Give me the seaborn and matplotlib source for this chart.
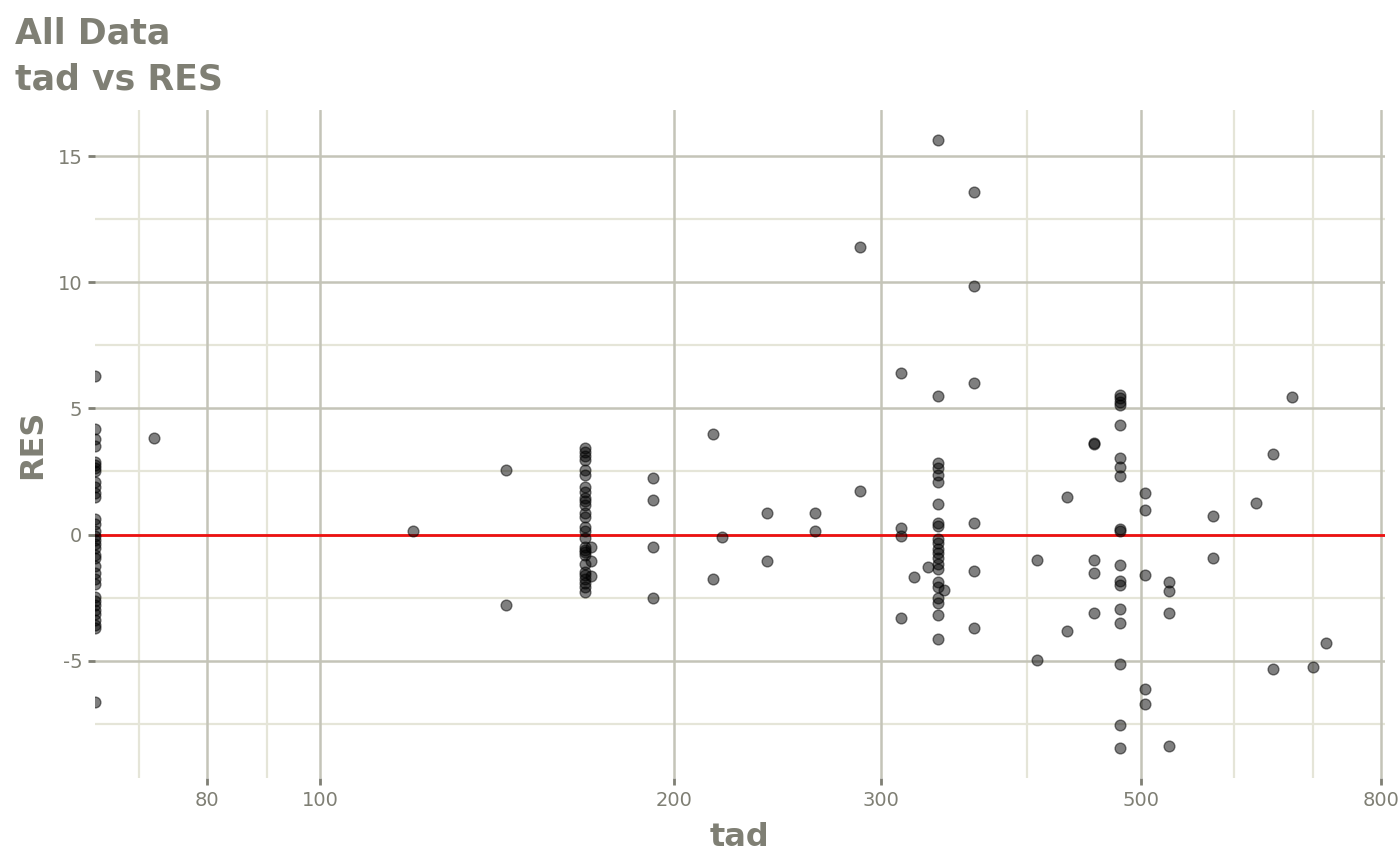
import numpy as np
import pandas as pd
import matplotlib
matplotlib.use("Agg")
import matplotlib.pyplot as plt
import seaborn as sns
from matplotlib.ticker import FixedLocator, FixedFormatter

# ---------------- data ----------------
tad_0 = [0] * 34
res_0 = [6.27, 4.2, 3.8, 3.5, 2.86, 2.74, 2.62, 2.5, 2.1, 1.87, 1.63, 1.5,
         0.6, 0.4, 0.16, -0.04, -0.2, -0.36, -0.52, -0.8, -0.95, -1.23,
         -1.51, -1.75, -1.98, -2.46, -2.62, -2.78, -2.98, -3.17, -3.37,
         -3.57, -3.69, -6.63]

tad_168 = [168] * 27 + [170] * 3
res_168 = [3.45, 3.29, 3.13, 2.94, 2.54, 2.38, 1.87, 1.67, 1.43, 1.31, 1.19,
           0.87, 0.71, 0.28, 0.16, -0.12, -0.48, -0.6, -0.71, -0.83, -1.15,
           -1.47, -1.59, -1.75, -1.94, -2.1, -2.26,
           -0.48, -1.03, -1.63]

tad_336 = [336] * 22 + [329, 340, 320]
res_336 = [15.63, 5.48, 2.82, 2.62, 2.38, 2.1, 1.23, 0.44, 0.32, -0.16,
           -0.32, -0.56, -0.75, -0.95, -1.15, -1.35, -1.9, -2.1, -2.5, -2.7,
           -3.21, -4.13,
           -1.27, -2.18, -1.7]

tad_480 = [480] * 18
res_480 = [5.52, 5.4, 5.24, 5.12, 4.33, 3.02, 2.66, 2.34, 0.16, 0.2, -1.19,
           -1.83, -2.02, -2.94, -3.49, -5.12, -7.54, -8.45]

tad_other = [72.1, 120, 144, 144, 192, 192, 192, 192, 216, 216, 220, 240, 240,
             264, 264, 288, 288, 312, 312, 312, 312, 360, 360, 360, 360, 360,
             360, 408, 408, 432, 432, 456, 456, 456, 456, 456, 504, 504, 504,
             504, 504, 528, 528, 528, 528, 576, 576, 626, 648, 648, 672, 700,
             719]
res_other = [3.81, 0.16, 2.54, -2.78, 2.26, 1.35, -0.48, -2.5, 3.97, -1.75,
             -0.08, 0.87, -1.03, 0.87, 0.16, 11.39, 1.71, 6.39, 0.24, -0.04,
             -3.29, 13.6, 9.84, 5.99, 0.44, -1.43, -3.69, -0.99, -4.96, 1.47,
             -3.81, 3.61, 3.58, -0.99, -1.51, -3.13, 1.63, 0.99, -1.59, -6.11,
             -6.71, -1.87, -2.22, -3.13, -8.37, 0.75, -0.95, 1.27, 3.21, -5.32,
             5.44, -5.24, -4.29]

x_major = [80, 100, 200, 300, 500, 800]
x_minor = [70, 90, 400, 600, 700]
y_major = [-5, 0, 5, 10, 15]
y_minor = [-7.5, -2.5, 2.5, 7.5, 12.5]

df = pd.DataFrame({
    "tad": tad_0 + tad_168 + tad_336 + tad_480 + tad_other,
    "RES": res_0 + res_168 + res_336 + res_480 + res_other,
})

# ---------------- limits like ggplot (5% expansion, log scale) ----------------
pos = df.loc[df.tad > 0, "tad"]
lo, hi = np.log10(pos.min()), np.log10(pos.max())
pad = 0.05 * (hi - lo)
xlim = (10 ** (lo - pad), 10 ** (hi + pad))
ylo, yhi = df.RES.min(), df.RES.max()
ypad = 0.05 * (yhi - ylo)
ylim = (ylo - ypad, yhi + ypad)
# zero values -> -Inf on log scale, drawn on the panel edge
df["tad_plot"] = df.tad.where(df.tad > 0, xlim[0])

# ---------------- styling ----------------
sns.set_theme(style="white")
plt.rcParams["font.family"] = ["DejaVu Sans"]
plt.rcParams["axes.unicode_minus"] = False

TXT = "#7f7f74"
MAJ = "#c4c4b8"
MIN = "#e5e5d8"

fig = plt.figure(figsize=(14, 8.65), dpi=100)
ax = fig.add_axes([95 / 1400, 1 - 778 / 865, (1385 - 95) / 1400, (778 - 110) / 865])

ax.set_xscale("log")
ax.set_xlim(*xlim)
ax.set_ylim(*ylim)

for v in x_minor:
    ax.axvline(v, color=MIN, lw=1.6, zorder=0)
for v in y_minor:
    ax.axhline(v, color=MIN, lw=1.6, zorder=0)
for v in x_major:
    ax.axvline(v, color=MAJ, lw=1.8, zorder=0.5)
for v in y_major:
    ax.axhline(v, color=MAJ, lw=1.8, zorder=0.5)

ax.axhline(0, color="#ee1111", lw=2, zorder=1)

sns.scatterplot(data=df, x="tad_plot", y="RES", ax=ax, color="black",
                alpha=0.5, s=60, edgecolor="black", linewidth=1.0,
                legend=False, zorder=3)

ax.xaxis.set_major_locator(FixedLocator(x_major))
ax.xaxis.set_major_formatter(FixedFormatter([str(v) for v in x_major]))
ax.xaxis.set_minor_locator(FixedLocator([]))
ax.yaxis.set_major_locator(FixedLocator(y_major))
ax.yaxis.set_major_formatter(FixedFormatter([str(v) for v in y_major]))

for s in ax.spines.values():
    s.set_visible(False)

ax.tick_params(axis="both", which="major", length=5, width=2, color=TXT,
               labelcolor=TXT, labelsize=14, pad=4,
               bottom=True, left=True)

ax.set_xlabel("tad", fontsize=23, fontweight="bold", color=TXT, labelpad=9)
ax.set_ylabel("RES", fontsize=23, fontweight="bold", color=TXT, labelpad=7)

fig.text(15 / 1400, 1 - 17 / 865, "All Data\ntad vs RES", ha="left", va="top",
         fontsize=25, fontweight="bold", color=TXT, linespacing=1.42)

fig.savefig("out.png", dpi=100)
